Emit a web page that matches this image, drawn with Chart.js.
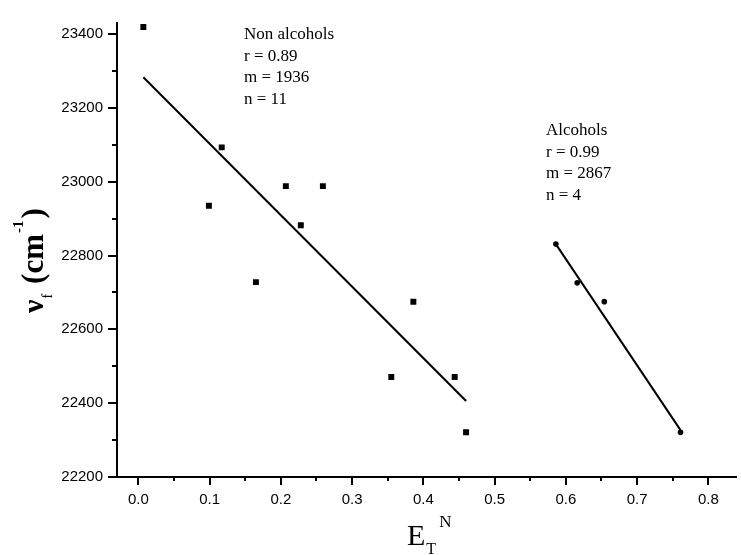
<!DOCTYPE html>
<html>
<head>
<meta charset="utf-8">
<script src="https://cdn.jsdelivr.net/npm/chart.js@4/dist/chart.umd.min.js"></script>
<style>
  html, body { margin: 0; padding: 0; background: #fff; }
  #wrap { width: 741px; height: 555px; position: relative; }
</style>
</head>
<body>
<div id="wrap"><canvas id="c" width="741" height="555"></canvas></div>
<script>
// ---- data ----
const nonAlcX = [0.007, 0.099, 0.117, 0.165, 0.207, 0.228, 0.259, 0.355, 0.386, 0.444, 0.460];
const nonAlcY = [23419, 22935, 23093, 22728, 22988, 22882, 22988, 22471, 22675, 22471, 22321];
const alcX = [0.586, 0.616, 0.654, 0.761];
const alcY = [22831, 22726, 22675, 22321];
const fitNonX = [0.007, 0.460];
const fitNonY = [23283, 22406];
const fitAlcX = [0.586, 0.761];
const fitAlcY = [22831, 22327];
const xTicks = [0.0, 0.1, 0.2, 0.3, 0.4, 0.5, 0.6, 0.7, 0.8];
const xMinor = [0.05, 0.15, 0.25, 0.35, 0.45, 0.55, 0.65, 0.75];
const yTicks = [22200, 22400, 22600, 22800, 23000, 23200, 23400];
const yMinor = [22300, 22500, 22700, 22900, 23100, 23300];
const noteNon = ["Non alcohols", "r = 0.89", "m = 1936", "n = 11"];
const noteAlc = ["Alcohols", "r = 0.99", "m = 2867", "n = 4"];

const pts = (xs, ys) => xs.map((x, i) => ({ x: x, y: ys[i] }));

const extras = {
  id: 'extras',
  afterDraw(chart) {
    const ctx = chart.ctx;
    const xs = chart.scales.x, ys = chart.scales.y;
    const ca = chart.chartArea;
    ctx.save();
    ctx.strokeStyle = '#000';
    ctx.lineWidth = 2;
    ctx.beginPath();
    xTicks.forEach(v => { const p = Math.round(xs.getPixelForValue(v)); ctx.moveTo(p, ca.bottom); ctx.lineTo(p, ca.bottom + 8); });
    xMinor.forEach(v => { const p = Math.round(xs.getPixelForValue(v)); ctx.moveTo(p, ca.bottom); ctx.lineTo(p, ca.bottom + 4); });
    yTicks.forEach(v => { const p = Math.round(ys.getPixelForValue(v)); ctx.moveTo(ca.left - 9, p); ctx.lineTo(ca.left, p); });
    yMinor.forEach(v => { const p = Math.round(ys.getPixelForValue(v)); ctx.moveTo(ca.left - 5, p); ctx.lineTo(ca.left, p); });
    ctx.stroke();

    // annotations
    ctx.fillStyle = '#000';
    ctx.textBaseline = 'alphabetic';
    ctx.textAlign = 'left';
    ctx.font = '17px "Liberation Serif", "Times New Roman", serif';
    noteNon.forEach((t, i) => ctx.fillText(t, 244, 39 + i * 21.7));
    noteAlc.forEach((t, i) => ctx.fillText(t, 546, 135 + i * 21.7));

    // x axis title  E_T^N
    ctx.font = '30px "Liberation Serif", serif';
    ctx.fillText('E', 407, 545);
    const wE = ctx.measureText('E').width;
    ctx.font = '16px "Liberation Serif", serif';
    ctx.fillText('T', 407 + wE + 1, 554);
    ctx.font = '17px "Liberation Serif", serif';
    ctx.fillText('N', 407 + wE + 14, 527);

    // y axis title  ν_f (cm^-1)
    ctx.save();
    ctx.translate(43, 313);
    ctx.rotate(-Math.PI / 2);
    let x = 0;
    ctx.font = 'bold 30px "Liberation Serif", serif';
    ctx.fillText('ν', x, 0); x += ctx.measureText('ν').width;
    ctx.font = '14px "Liberation Serif", serif';
    ctx.fillText('f', x + 1, 9); x += ctx.measureText('f').width + 11;
    ctx.font = 'bold 31px "Liberation Serif", serif';
    ctx.fillText('(cm', x, 0); x += ctx.measureText('(cm').width;
    ctx.font = 'bold 15px "Liberation Serif", serif';
    ctx.fillText('-1', x + 1, -20); x += ctx.measureText('-1').width + 3;
    ctx.font = 'bold 31px "Liberation Serif", serif';
    ctx.fillText(')', x, 0);
    ctx.restore();

    ctx.restore();
  }
};

new Chart(document.getElementById('c'), {
  type: 'scatter',
  data: {
    datasets: [
      { label: 'Non alcohols', data: pts(nonAlcX, nonAlcY), pointStyle: 'rect', pointRadius: 4.2,
        backgroundColor: '#000', borderColor: '#000', borderWidth: 0, showLine: false },
      { label: 'Alcohols', data: pts(alcX, alcY), pointStyle: 'circle', pointRadius: 2.8,
        backgroundColor: '#000', borderColor: '#000', borderWidth: 0, showLine: false },
      { label: 'fit non', data: pts(fitNonX, fitNonY), showLine: true, pointRadius: 0,
        borderColor: '#000', borderWidth: 2 },
      { label: 'fit alc', data: pts(fitAlcX, fitAlcY), showLine: true, pointRadius: 0,
        borderColor: '#000', borderWidth: 2 }
    ]
  },
  options: {
    responsive: false,
    animation: false,
    devicePixelRatio: 1,
    layout: { padding: { top: 17, right: 1, left: 0, bottom: 0 } },
    plugins: { legend: { display: false }, tooltip: { enabled: false } },
    scales: {
      x: {
        type: 'linear', min: -0.03, max: 0.84,
        afterBuildTicks: s => { s.ticks = xTicks.map(v => ({ value: v })); },
        afterFit: s => { s.height = 78; },
        grid: { display: false, drawTicks: false },
        border: { display: true, color: '#000', width: 2 },
        ticks: { color: '#000', padding: 14, maxRotation: 0, autoSkip: false,
          font: { family: '"Liberation Sans", Arial, sans-serif', size: 15 },
          callback: v => Number(v).toFixed(1) }
      },
      y: {
        type: 'linear', min: 22200, max: 23430,
        afterBuildTicks: s => { s.ticks = yTicks.map(v => ({ value: v })); },
        afterFit: s => { s.width = 117; },
        grid: { display: false, drawTicks: false },
        border: { display: true, color: '#000', width: 2 },
        ticks: { color: '#000', padding: 14, autoSkip: false,
          font: { family: '"Liberation Sans", Arial, sans-serif', size: 15 },
          callback: v => String(v) }
      }
    }
  },
  plugins: [extras]
});
</script>
</body>
</html>
